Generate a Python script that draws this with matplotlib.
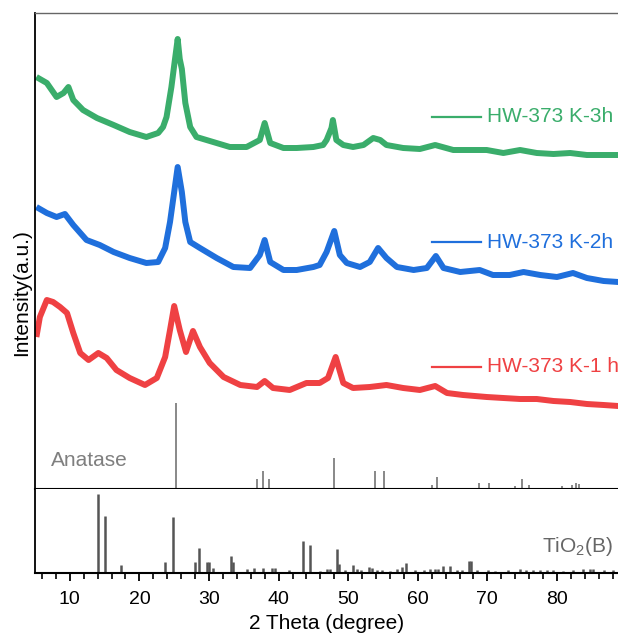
import matplotlib
matplotlib.use("Agg")
import matplotlib.pyplot as plt

plt.rcParams['font.family'] = ['Liberation Sans', 'DejaVu Sans']
plt.rcParams['mathtext.default'] = 'regular'

# ---------------- data (intensity in arbitrary units) ----------------
theta_3h = [5.2, 6.7, 8.1, 9.1, 9.8, 10.5, 11.9, 13.9, 16.3, 18.6, 21.0, 22.7, 23.4, 23.9, 24.6,
            25.1, 25.5, 25.8, 26.1, 26.6, 27.3, 28.2, 30.6, 33.0, 35.4, 37.3, 38.0, 38.8, 40.7,
            42.6, 45.0, 46.4, 46.9, 47.6, 47.8, 48.3, 49.3, 50.7, 52.2, 53.6, 54.6, 55.5,
            57.9, 60.3, 62.5, 65.1, 67.5, 69.9, 72.3, 74.7, 77.1, 79.5, 81.9, 84.3, 86.7, 88.8]
int_3h = [412, 406, 392, 396, 402, 389, 379, 371, 364, 357, 352, 356, 362, 372, 402,
          429, 450, 430, 420, 386, 362, 352, 347, 342, 342, 349, 366, 346, 341,
          341, 342, 344, 349, 361, 369, 349, 344, 342, 344, 351, 349, 344,
          341, 340, 344, 339, 339, 339, 336, 339, 336, 335, 336, 334, 334, 334]

theta_2h = [5.2, 6.7, 8.1, 9.3, 10.5, 12.4, 14.3, 16.3, 18.6, 21.0, 22.7, 23.7, 24.4, 25.0,
            25.5, 26.1, 26.6, 27.3, 28.7, 31.1, 33.5, 35.9, 37.3, 38.0, 38.8, 40.7, 42.6,
            45.0, 45.9, 46.9, 48.0, 48.8, 49.8, 51.7, 53.1, 54.3, 55.5, 57.0, 59.4, 61.3,
            62.6, 63.7, 66.1, 68.9, 70.8, 73.2, 75.2, 77.6, 80.0, 82.3, 84.3, 86.7, 88.8]
int_2h = [282, 276, 272, 275, 264, 249, 244, 237, 231, 226, 227, 241, 267, 297,
          322, 297, 267, 247, 241, 231, 222, 221, 234, 249, 227, 219, 219,
          222, 224, 237, 258, 234, 226, 222, 227, 241, 231, 222, 219, 221,
          233, 221, 217, 219, 214, 214, 217, 214, 212, 216, 211, 208, 207]

theta_1h = [5.2, 5.7, 6.7, 7.6, 8.6, 9.6, 10.5, 11.5, 12.7, 14.1, 15.3, 16.7, 18.6, 20.8,
            22.5, 23.7, 24.4, 25.0, 25.8, 26.7, 27.7, 28.7, 30.1, 32.1, 34.5, 36.9, 38.0,
            39.2, 41.6, 44.0, 45.9, 47.1, 48.2, 49.3, 50.7, 53.1, 55.5, 57.9, 60.3, 62.5,
            64.2, 66.5, 69.9, 72.3, 74.7, 77.1, 79.5, 81.9, 84.3, 86.7, 88.8]
int_1h = [152, 172, 189, 187, 182, 176, 156, 136, 129, 136, 131, 119, 111, 104,
          111, 132, 159, 183, 159, 137, 158, 142, 126, 112, 104, 102, 108,
          101, 99, 106, 106, 111, 132, 106, 101, 102, 104, 101, 99, 103,
          96, 94, 92, 91, 90, 90, 88, 87, 85, 84, 83]

series_labels = ['HW-373 K-3h', 'HW-373 K-2h', 'HW-373 K-1 h']
series_colors = ['#3aad6b', '#1f6fdc', '#ef4143']

anatase_pos = [25.3, 36.9, 37.8, 38.6, 48.0, 53.9, 55.1, 62.1, 62.7, 68.8, 70.3,
               74.0, 75.0, 76.0, 80.7, 82.1, 82.7, 83.1]
anatase_int = [86, 10, 18, 10, 31, 18, 18, 4, 12, 6, 6, 3, 10, 4, 3, 4, 6, 5]

tio2b_pos = [14.1, 15.1, 17.4, 23.7, 24.8, 28.0, 28.6, 29.7, 30.0, 30.6, 33.2, 33.4,
             35.4, 36.4, 37.8, 39.0, 39.5, 41.5, 43.5, 44.5, 45.9, 46.9, 47.4, 48.4,
             48.7, 49.5, 50.7, 51.2, 51.9, 53.0, 53.4, 54.2, 54.8, 56.0, 57.0, 57.7,
             58.3, 59.6, 60.9, 61.8, 62.5, 62.9, 63.6, 64.6, 65.6, 66.3, 67.3, 67.6,
             68.5, 70.1, 71.1, 73.0, 74.7, 75.6, 76.6, 77.6, 78.5, 79.5, 80.9, 82.3,
             83.8, 84.7, 85.2, 86.7, 88.1]
tio2b_int = [79, 57, 8, 11, 56, 11, 25, 11, 11, 5, 17, 11,
             4, 5, 5, 5, 5, 3, 32, 28, 2, 4, 4, 24,
             9, 3, 8, 4, 3, 6, 5, 3, 3, 2, 4, 6,
             10, 3, 3, 4, 4, 4, 7, 7, 3, 3, 12, 12,
             3, 3, 2, 3, 4, 3, 3, 3, 3, 3, 2, 3,
             4, 4, 4, 3, 3]

x_major = [10, 20, 30, 40, 50, 60, 70, 80]

# ---------------- figure ----------------
W, H = 618, 634
fig = plt.figure(figsize=(W / 100, H / 100), dpi=100)
left = 35 / W
ax_top = fig.add_axes([left, 1 - 489 / H, 1 - left, (489 - 13) / H])
ax_bot = fig.add_axes([left, 1 - 573 / H, 1 - left, (573 - 489) / H])

xmin, xmax = 5, 88.77
for ax in (ax_top, ax_bot):
    ax.set_xlim(xmin, xmax)
    ax.spines['right'].set_visible(False)
    ax.set_yticks([])

# spectra
for th, it, c in zip([theta_3h, theta_2h, theta_1h], [int_3h, int_2h, int_1h], series_colors):
    ax_top.plot(th, it, color=c, lw=4.3, solid_joinstyle='round', solid_capstyle='butt')

ax_top.vlines(anatase_pos, 0, anatase_int, color='#7f7f7f', lw=1.3)
ax_top.set_ylim(0, 476)
ax_top.set_xticks([])
ax_top.spines['left'].set_linewidth(1.3)
ax_top.spines['top'].set_linewidth(1.0)
ax_top.spines['top'].set_color('#666666')
ax_top.spines['bottom'].set_linewidth(1.5)

# legend-like labels next to each curve
label_y = [372, 247, 122]
for lab, c, yy in zip(series_labels, series_colors, label_y):
    ax_top.plot([62.1, 69.1], [yy, yy], color=c, lw=1.6)
    ax_top.text(70.0, yy, lab, color=c, fontsize=15, ha='left', va='center')

ax_top.text(7.3, 28, 'Anatase', color='#7f7f7f', fontsize=15, ha='left', va='center')

# TiO2(B) reference
ax_bot.vlines(tio2b_pos, 0, tio2b_int, color='#555555', lw=1.8)
ax_bot.set_ylim(0, 84)
ax_bot.spines['top'].set_visible(False)
ax_bot.spines['left'].set_linewidth(1.3)
ax_bot.spines['bottom'].set_linewidth(1.5)
ax_bot.text(88.0, 26, r'TiO$_{2}$(B)', color='#666666', fontsize=15, ha='right', va='center')

ax_bot.set_xticks(x_major)
ax_bot.set_xticks([v for v in range(6, 89, 2) if v % 10 != 0], minor=True)
ax_bot.tick_params(axis='x', which='major', direction='out', length=6, width=1.3,
                   labelsize=14, pad=7)
ax_bot.tick_params(axis='x', which='minor', direction='out', length=4, width=1.2)
ax_bot.set_xlabel('2 Theta (degree)', fontsize=15, labelpad=4)

fig.text(22 / W, 1 - 293 / H, 'Intensity(a.u.)', rotation=90, fontsize=15,
         ha='center', va='center')

fig.savefig('out.png', dpi=100)
